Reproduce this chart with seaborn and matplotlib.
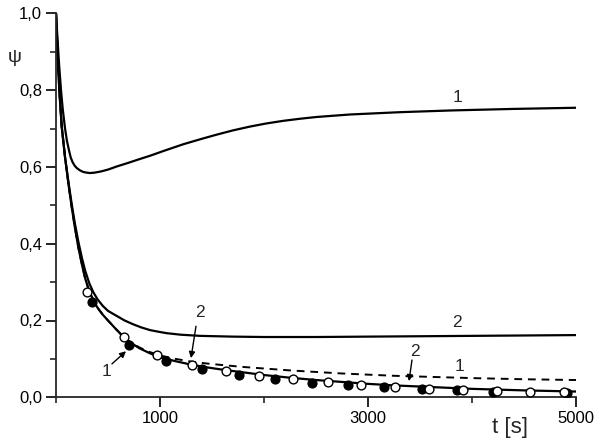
import matplotlib
matplotlib.use("Agg")
import matplotlib.pyplot as plt
import seaborn as sns
from matplotlib.ticker import FixedLocator, MultipleLocator, FuncFormatter

# ---- data ----
t_up = [0, 15, 30, 48, 65, 87, 105, 125, 141, 160, 180, 200, 230, 260, 295, 327, 370, 430, 500, 583, 700, 800, 904,
        1050, 1224, 1400, 1545, 1700, 1865, 2020, 2186, 2350, 2506, 2827, 3308, 3800, 4400, 5000]
psi_up = [1.0, 0.93, 0.865, 0.80, 0.75, 0.70, 0.668, 0.643, 0.625, 0.612, 0.603, 0.597, 0.591, 0.587, 0.585, 0.584, 0.585, 0.588, 0.593, 0.601,
          0.611, 0.620, 0.629, 0.643, 0.659, 0.673, 0.684, 0.695, 0.705, 0.713, 0.720, 0.7255, 0.730, 0.7365, 0.7425, 0.747, 0.751, 0.754]

t_mid = [0, 15, 32, 55, 87, 120, 150, 180, 215, 250, 280, 320, 360, 400, 450, 500, 583, 660, 743, 820, 904, 1000, 1064,
         1200, 1385, 1700, 2000, 2500, 3000, 4000, 5000]
psi_mid = [1.0, 0.90, 0.80, 0.705, 0.625, 0.56, 0.505, 0.455, 0.405, 0.362, 0.330, 0.297, 0.273, 0.255, 0.238, 0.225, 0.212, 0.200, 0.190,
           0.182, 0.175, 0.170, 0.167, 0.163, 0.160, 0.158, 0.157, 0.157, 0.158, 0.160, 0.162]

t_fit = [0, 15, 32, 55, 87, 120, 150, 180, 215, 250, 280, 320, 360, 400, 450, 500, 575, 650, 725, 800, 900, 1000, 1150, 1300,
         1450, 1600, 1800, 2000, 2250, 2500, 2750, 3000, 3250, 3500, 3750, 4000, 4500, 5000]
psi_fit2 = [1.0, 0.90, 0.80, 0.705, 0.625, 0.555, 0.497, 0.445, 0.39, 0.345, 0.31, 0.276, 0.252, 0.233, 0.215, 0.200, 0.178, 0.157, 0.141,
            0.128, 0.115, 0.104, 0.094, 0.085, 0.078, 0.072, 0.065, 0.058, 0.051, 0.045, 0.040, 0.035, 0.031, 0.028, 0.025, 0.022, 0.018, 0.015]
psi_fit1 = [1.0, 0.90, 0.80, 0.705, 0.625, 0.555, 0.497, 0.445, 0.39, 0.345, 0.31, 0.276, 0.252, 0.233, 0.215, 0.200, 0.178, 0.157, 0.142,
            0.130, 0.118, 0.109, 0.100, 0.093, 0.088, 0.084, 0.079, 0.075, 0.070, 0.066, 0.062, 0.059, 0.056, 0.054, 0.052, 0.050, 0.047, 0.045]

t_open = [295, 654, 974, 1305, 1632, 1955, 2282, 2612, 2930, 3260, 3587, 3910, 4238, 4558, 4885]
psi_open = [0.275, 0.156, 0.110, 0.083, 0.068, 0.056, 0.047, 0.039, 0.032, 0.027, 0.022, 0.018, 0.016, 0.013, 0.013]

t_filled = [349, 705, 1055, 1407, 1757, 2106, 2459, 2811, 3157, 3516, 3859, 4205, 4911]
psi_filled = [0.249, 0.135, 0.095, 0.074, 0.059, 0.047, 0.038, 0.031, 0.026, 0.021, 0.018, 0.014, 0.011]

x_major = [1000, 3000, 5000]
y_major = [0.0, 0.2, 0.4, 0.6, 0.8, 1.0]

sns.set_style("ticks")
plt.rcParams['font.family'] = ['Liberation Sans', 'DejaVu Sans']

fig = plt.figure(figsize=(6.0, 4.41), dpi=100)
ax = fig.add_axes([56/600, 1-397.3/441, 520/600, 384/441])

sns.lineplot(x=t_up, y=psi_up, ax=ax, color='black', lw=1.6, estimator=None, sort=False)
sns.lineplot(x=t_mid, y=psi_mid, ax=ax, color='black', lw=1.6, estimator=None, sort=False)
sns.lineplot(x=t_fit, y=psi_fit1, ax=ax, color='black', lw=1.4, estimator=None, sort=False, linestyle=(0, (4, 3)))
sns.lineplot(x=t_fit, y=psi_fit2, ax=ax, color='black', lw=1.6, estimator=None, sort=False)
sns.scatterplot(x=t_filled, y=psi_filled, ax=ax, color='black', s=40, edgecolor='black', linewidth=1.0, zorder=4)
sns.scatterplot(x=t_open, y=psi_open, ax=ax, facecolor='white', s=40, edgecolor='black', linewidth=1.0, zorder=5)

ax.set_xlim(0, 5000)
ax.set_ylim(0, 1.0)
sns.despine(ax=ax)
ax.spines['left'].set_linewidth(1.3)
ax.spines['bottom'].set_linewidth(1.3)

ax.xaxis.set_major_locator(FixedLocator(x_major))
ax.xaxis.set_minor_locator(MultipleLocator(1000))
ax.yaxis.set_major_locator(FixedLocator(y_major))
ax.yaxis.set_minor_locator(MultipleLocator(0.1))
ax.yaxis.set_major_formatter(FuncFormatter(lambda v, p: f"{v:.1f}".replace('.', ',')))
ax.xaxis.set_major_formatter(FuncFormatter(lambda v, p: f"{int(v)}"))
ax.tick_params(which='major', direction='out', length=7, width=1.2, labelsize=12, pad=3, colors='black')
ax.tick_params(which='minor', direction='out', length=4, width=1.2)

ax.set_xlabel('')
ax.set_ylabel('')
fig.text(8/600, 1-57/441, 'ψ', fontsize=14, ha='left', va='center')
fig.text(510/600, 1-427/441, 't [s]', fontsize=16, ha='center', va='center')

fs = 12.5
ax.text(3856, 0.782, '1', fontsize=fs, ha='center', va='center')
ax.text(3856, 0.194, '2', fontsize=fs, ha='center', va='center')
ax.text(3875, 0.079, '1', fontsize=fs, ha='center', va='center')
ax.text(1385, 0.220, '2', fontsize=fs, ha='center', va='center')
ax.text(490, 0.066, '1', fontsize=fs, ha='center', va='center')
ax.text(3452, 0.118, '2', fontsize=fs, ha='center', va='center')

arrow_kw = dict(arrowstyle='-|>', color='black', lw=1, shrinkA=0, shrinkB=0, mutation_scale=9)
ax.annotate('', xy=(1298, 0.102), xytext=(1346, 0.185), arrowprops=arrow_kw)
ax.annotate('', xy=(673, 0.120), xytext=(538, 0.087), arrowprops=arrow_kw)
ax.annotate('', xy=(3394, 0.042), xytext=(3423, 0.097), arrowprops=arrow_kw)

fig.savefig('out.png', dpi=100)
